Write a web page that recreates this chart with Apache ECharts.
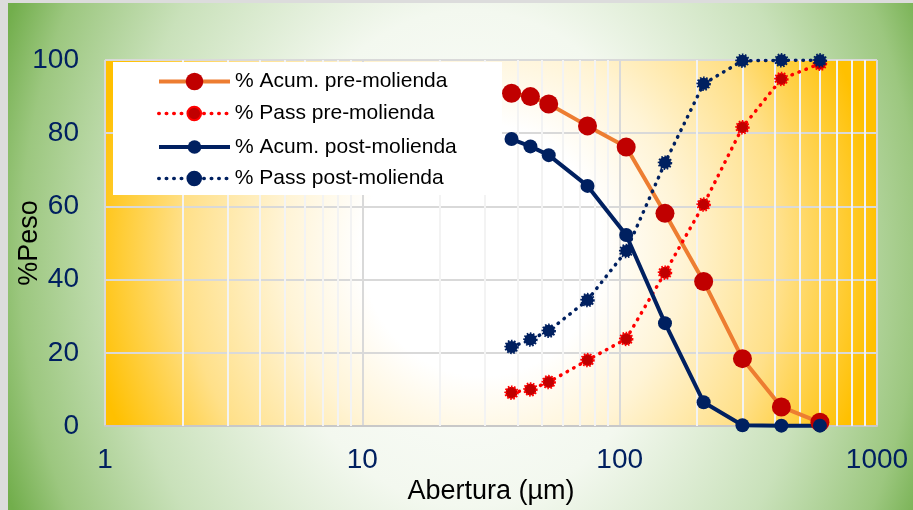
<!DOCTYPE html>
<html>
<head>
<meta charset="utf-8">
<script src="https://cdn.jsdelivr.net/npm/echarts@6/dist/echarts.min.js"></script>
<style>
html,body{margin:0;padding:0;background:#fff}
#chart{width:913px;height:510px}
</style>
</head>
<body>
<div id="chart"></div>
<script>
// tamaño de malla (µm)
var sizes = [38, 45, 53, 75, 106, 150, 212, 300, 425, 600];
var acumPre = [90.9, 90.0, 88.0, 82.0, 76.2, 58.1, 39.5, 18.4, 5.2, 1.0];
var passPre = [9.1, 10.0, 12.0, 18.0, 23.8, 41.9, 60.5, 81.6, 94.8, 99.0];
var acumPost = [78.4, 76.4, 74.0, 65.6, 52.2, 28.1, 6.5, 0.2, 0.1, 0.1];
var passPost = [21.6, 23.6, 26.0, 34.4, 47.8, 71.9, 93.5, 99.8, 99.9, 99.9];
var seriesNames = ['% Acum. pre-molienda', '% Pass pre-molienda', '% Acum. post-molienda', '% Pass post-molienda'];
var yTicks = [0, 20, 40, 60, 80, 100];
var minorTicks = [2, 3, 4, 5, 6, 7, 8, 9, 20, 30, 40, 50, 60, 70, 80, 90, 200, 300, 400, 500, 600, 700, 800, 900];

var font = '"Liberation Sans", Arial, sans-serif';
var G = {left: 105, top: 60, width: 772, height: 366};

function pairs(ys){
    return sizes.map(function(s, i){ return [s, ys[i]]; });
}

// fondo con degradado eliptico (circulo escalado)
function ellipseRect(x0, y0, w, h, cx, cy, rx, ry, stops, z){
    var sy = ry / rx;
    return {
        type: 'rect', x: x0, y: y0, scaleY: sy, z: z, silent: true,
        shape: {x: 0, y: 0, width: w, height: h / sy},
        style: {
            fill: {type: 'radial', x: cx, y: cy / sy, r: rx, global: true, colorStops: stops}
        }
    };
}

var myChart = echarts.init(document.getElementById('chart'));

var legendTops = [71, 103, 136.5, 168];
var legends = seriesNames.map(function(n, i){
    return {
        data: [n],
        left: 157,
        top: legendTops[i],
        padding: 0,
        itemWidth: 71,
        itemHeight: i == 0 ? 22 : 17,
        selectedMode: false,
        lineStyle: {width: 'inherit'},
        textStyle: {fontSize: 21, color: '#000', fontFamily: font}
    };
});

var dotted = [0.5, 7];

option = {
    animation: false,
    backgroundColor: '#DCDCDC',
    graphic: {
        elements: [
            ellipseRect(8, 3, 905, 507, 462, 255, 500, 620, [
                {offset: 0, color: '#FFFFFF'},
                {offset: 0.4, color: '#F3F8EF'},
                {offset: 0.7, color: '#C9E1BA'},
                {offset: 0.9, color: '#9CC77F'},
                {offset: 1, color: '#72AE4C'}
            ], -3),
            ellipseRect(G.left, G.top, G.width, G.height, 377, 190, 400, 420, [
                {offset: 0, color: '#FFFFFF'},
                {offset: 0.3, color: '#FFFFFF'},
                {offset: 0.5, color: '#FFF4D6'},
                {offset: 0.75, color: '#FFE089'},
                {offset: 1, color: '#FFC000'}
            ], -2),
            {
                type: 'rect', x: 113, y: 62, z: 3, silent: true,
                shape: {x: 0, y: 0, width: 389, height: 133},
                style: {fill: '#FFFFFF'}
            }
        ]
    },
    legend: legends,
    grid: {
        left: G.left, top: G.top, width: G.width, height: G.height,
        containLabel: false, outerBoundsMode: 'none'
    },
    xAxis: {
        type: 'log',
        logBase: 10,
        min: 1,
        max: 1000,
        name: 'Abertura (µm)',
        nameLocation: 'middle',
        nameGap: 52,
        nameMoveOverlap: false,
        nameTextStyle: {fontSize: 27, color: '#000', fontFamily: font},
        axisLine: {show: true, lineStyle: {color: '#C8C8C8', width: 2}},
        axisTick: {show: false},
        axisLabel: {
            fontSize: 28, color: '#002060', fontFamily: font, margin: 20,
            formatter: function(v){ return String(v); }
        },
        splitLine: {show: true, lineStyle: {color: '#D9D9D9', width: 2}},
        minorTick: {show: false},
        minorSplitLine: {show: false}
    },
    yAxis: {
        type: 'value',
        min: yTicks[0],
        max: yTicks[yTicks.length - 1],
        interval: 20,
        name: '%Peso',
        nameLocation: 'middle',
        nameGap: 62,
        nameMoveOverlap: false,
        nameTextStyle: {fontSize: 27, color: '#000', fontFamily: font},
        axisLine: {show: false},
        axisTick: {show: false},
        axisLabel: {fontSize: 28, color: '#002060', fontFamily: font, margin: 26},
        splitLine: {show: true, lineStyle: {color: '#D9D9D9', width: 2}}
    },
    series: [
        {
            name: 'minor',
            type: 'line',
            data: [],
            z: 1,
            silent: true,
            markLine: {
                silent: true,
                z: 1,
                symbol: ['none', 'none'],
                label: {show: false},
                lineStyle: {color: '#F3F3F3', width: 2, type: 'solid'},
                emphasis: {disabled: true},
                data: minorTicks.map(function(v){ return {xAxis: v}; })
            }
        },
        {
            name: seriesNames[0],
            type: 'line',
            data: pairs(acumPre),
            symbol: 'circle',
            symbolSize: 19,
            lineStyle: {color: '#ED7D31', width: 4},
            itemStyle: {color: '#C00000'},
            z: 2
        },
        {
            name: seriesNames[1],
            type: 'line',
            data: pairs(passPre),
            symbol: 'circle',
            symbolSize: 12,
            lineStyle: {color: '#FF0000', width: 3.5, type: dotted, cap: 'round'},
            itemStyle: {color: '#C00000', borderColor: '#FF0000', borderWidth: 2.5, borderType: [1.5, 1.5]},
            z: 2
        },
        {
            name: seriesNames[2],
            type: 'line',
            data: pairs(acumPost),
            symbol: 'circle',
            symbolSize: 14,
            lineStyle: {color: '#002060', width: 4},
            itemStyle: {color: '#002060'},
            z: 2
        },
        {
            name: seriesNames[3],
            type: 'line',
            data: pairs(passPost),
            symbol: 'circle',
            symbolSize: 12,
            lineStyle: {color: '#002060', width: 3.5, type: dotted, cap: 'round'},
            itemStyle: {color: '#002060', borderColor: '#002060', borderWidth: 2.5, borderType: [1.5, 1.5]},
            z: 2
        }
    ]
};
myChart.setOption(option);
</script>
</body>
</html>
